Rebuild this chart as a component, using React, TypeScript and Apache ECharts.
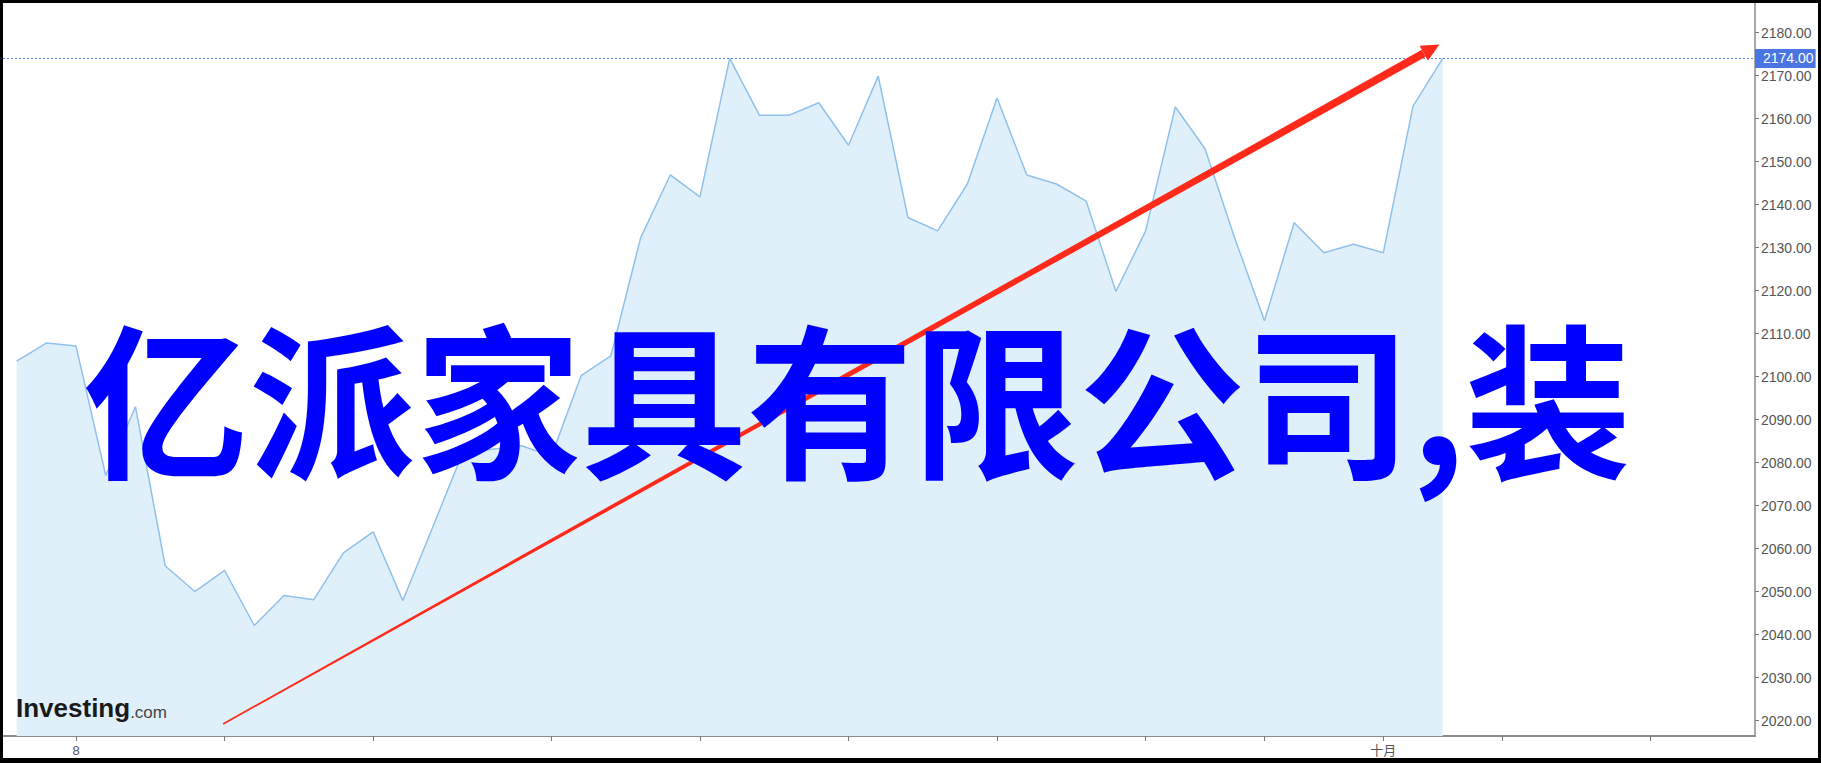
import React, { useEffect, useRef } from 'react';
import * as echarts from 'echarts';

// Daily closing values (index 0 .. 48)
const closeValues = [
  2103.6, 2107.8, 2107.1, 2077.0, 2093.0, 2056.0, 2050.0, 2054.9, 2042.1, 2049.1,
  2048.1, 2059.0, 2063.9, 2047.9, 2064.9, 2082.0, 2083.1, 2083.9, 2081.5, 2100.2,
  2104.8, 2132.2, 2146.9, 2141.8, 2174.0, 2160.8, 2160.8, 2163.7, 2153.8, 2169.9,
  2137.0, 2133.9, 2144.8, 2164.8, 2146.9, 2144.8, 2140.8, 2119.8, 2133.9, 2162.7,
  2153.0, 2132.2, 2113.0, 2135.8, 2128.8, 2130.8, 2128.8, 2162.9, 2174.0,
];

const xTickIndices = [2, 7, 12, 18, 23, 28, 33, 38, 42, 46, 50, 55];
const xLabelIndices = [2, 46];
const xLabelTexts = ['8', '十月'];
const yTickValues = [
  2020, 2030, 2040, 2050, 2060, 2070, 2080, 2090, 2100,
  2110, 2120, 2130, 2140, 2150, 2160, 2170, 2180,
];
const lastPrice = 2174;
const titleText = '亿派家具有限公司,装';
const arrowStart = [6.95, 2019.2];
const arrowEnd = [47.89, 2177.26];

const latinFont = 'Arial, "Liberation Sans", "Noto Sans CJK SC", sans-serif';

export default function App() {
  const ref = useRef<HTMLDivElement>(null);

  useEffect(() => {
    const el = ref.current;
    if (!el) return;
    const chart = echarts.init(el, null, { renderer: 'svg' });
    chart.setOption({
      animation: false,
      backgroundColor: '#ffffff',
      grid: { left: 0, right: 63, top: 0, bottom: 22, containLabel: false },
      xAxis: {
        type: 'value',
        min: -0.458,
        max: 58.51,
        axisLine: { show: true, onZero: false, lineStyle: { color: '#8c8c8c', width: 2 } },
        axisTick: {
          show: true,
          customValues: xTickIndices,
          length: 5,
          lineStyle: { color: '#777777', width: 1 },
        },
        axisLabel: {
          show: true,
          customValues: xLabelIndices,
          formatter: (v: number) => {
            const k = xLabelIndices.indexOf(Math.round(v));
            return k >= 0 ? xLabelTexts[k] : '';
          },
          color: '#555555',
          fontSize: 13,
          margin: 8,
          fontFamily: latinFont,
        },
        splitLine: { show: false },
      },
      yAxis: {
        type: 'value',
        position: 'right',
        min: 2016.4,
        max: 2186.9,
        axisLine: { show: true, onZero: false, lineStyle: { color: '#8c8c8c', width: 1.5 } },
        axisTick: {
          show: true,
          customValues: yTickValues,
          length: 4,
          lineStyle: { color: '#777777', width: 1 },
        },
        axisLabel: {
          show: true,
          customValues: yTickValues,
          formatter: (v: number) => v.toFixed(2),
          color: '#555555',
          fontSize: 14,
          margin: 6,
          fontFamily: latinFont,
        },
        splitLine: { show: false },
      },
      series: [
        {
          type: 'line',
          data: closeValues.map((v, i) => [i, v]),
          symbol: 'none',
          lineStyle: { color: '#90c1ec', width: 1.5 },
          areaStyle: { color: '#e0f0fa', opacity: 1, origin: 'start' },
          z: 2,
          markLine: {
            silent: true,
            symbol: 'none',
            animation: false,
            data: [{ yAxis: lastPrice }],
            lineStyle: { color: '#5a7ee6', type: [2, 2], width: 1 },
            label: {
              show: true,
              position: 'end',
              distance: 0,
              formatter: lastPrice.toFixed(2),
              color: '#ffffff',
              backgroundColor: '#4a76e3',
              padding: [2, 2, 2, 8],
              fontSize: 14,
              lineHeight: 15,
              fontFamily: latinFont,
            },
          },
        },
      ],
    });

    const p0 = chart.convertToPixel({ gridIndex: 0 }, arrowStart) as number[];
    const p1 = chart.convertToPixel({ gridIndex: 0 }, arrowEnd) as number[];
    const dx = p1[0] - p0[0];
    const dy = p1[1] - p0[1];
    const len = Math.sqrt(dx * dx + dy * dy);
    const ux = dx / len;
    const uy = dy / len;
    const nx = -uy;
    const ny = ux;
    const headLen = 18;
    const headHalf = 8.5;
    const bx = p1[0] - ux * headLen;
    const by = p1[1] - uy * headLen;
    const w0 = 0.8;
    const w1 = 4;

    chart.setOption({
      graphic: [
        {
          type: 'polygon',
          z: 90,
          shape: {
            points: [
              [p0[0] + nx * w0, p0[1] + ny * w0],
              [bx + nx * w1, by + ny * w1],
              [bx - nx * w1, by - ny * w1],
              [p0[0] - nx * w0, p0[1] - ny * w0],
            ],
          },
          style: { fill: '#ff2a1a' },
        },
        {
          type: 'polygon',
          z: 90,
          shape: {
            points: [
              [p1[0], p1[1]],
              [bx + nx * headHalf, by + ny * headHalf],
              [bx - nx * headHalf, by - ny * headHalf],
            ],
          },
          style: { fill: '#ff2a1a' },
        },
        {
          type: 'text',
          z: 80,
          x: 13,
          y: 718,
          style: {
            text: '{a|Investing}{b|.com}',
            verticalAlign: 'bottom',
            rich: {
              a: {
                fontSize: 26,
                fontWeight: 'bold',
                fontFamily: latinFont,
                fill: '#1a1a1a',
                verticalAlign: 'bottom',
              },
              b: {
                fontSize: 17,
                fontFamily: latinFont,
                fill: '#444444',
                verticalAlign: 'bottom',
              },
            },
          },
        },
        {
          type: 'text',
          z: 100,
          x: 80,
          y: 390,
          style: {
            text: titleText,
            fill: '#0000ff',
            fontSize: 166,
            fontWeight: 'bold',
            fontFamily: '"Noto Sans CJK SC", sans-serif',
            verticalAlign: 'middle',
          },
        },
      ],
    });

    return () => {
      chart.dispose();
    };
  }, []);

  return (
    <div
      style={{
        position: 'fixed',
        left: 0,
        top: 0,
        width: 1821,
        height: 763,
        background: '#000000',
      }}
    >
      <div
        ref={ref}
        style={{
          position: 'absolute',
          left: 3,
          top: 3,
          width: 1815,
          height: 755,
          background: '#ffffff',
        }}
      />
    </div>
  );
}
